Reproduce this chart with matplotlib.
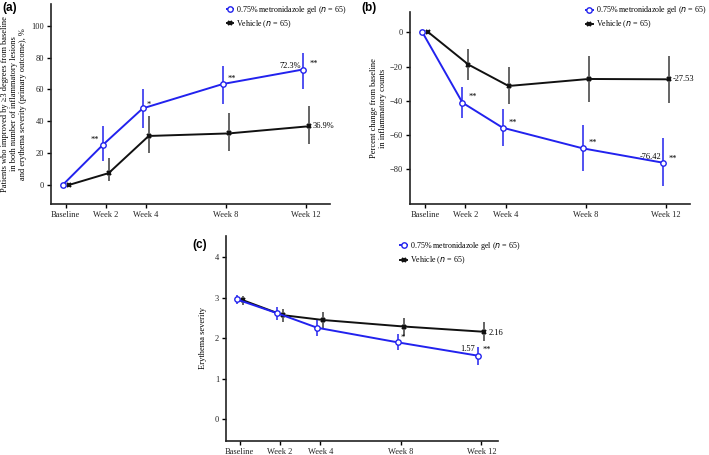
import matplotlib
matplotlib.use("Agg")
import matplotlib.pyplot as plt
import numpy as np

weeks = [0, 2, 4, 8, 12]
week_labels = ["Baseline", "Week 2", "Week 4", "Week 8", "Week 12"]

# (a) responders, %
a_gel = [0, 25.1, 48.1, 63.4, 72.5]
a_gel_lo = [0, 15.3, 35.6, 50.8, 60.0]
a_gel_hi = [0, 37.0, 60.5, 74.7, 82.7]
a_veh = [0, 7.5, 30.8, 32.4, 36.9]
a_veh_lo = [0, 2.5, 19.9, 21.5, 25.5]
a_veh_hi = [0, 17.1, 43.3, 45.0, 49.6]

# (b) percent change in inflammatory counts
b_gel = [0, -41.2, -55.8, -67.9, -76.3]
b_gel_lo = [0, -50.1, -66.5, -81.3, -89.9]
b_gel_hi = [0, -32.2, -44.9, -54.4, -62.0]
b_veh = [0, -18.9, -31.4, -27.3, -27.5]
b_veh_lo = [0, -27.9, -42.1, -40.8, -41.5]
b_veh_hi = [0, -9.9, -20.3, -13.8, -13.7]

# (c) erythema severity
c_gel = [2.96, 2.62, 2.26, 1.90, 1.57]
c_gel_lo = [2.85, 2.45, 2.06, 1.70, 1.34]
c_gel_hi = [3.06, 2.77, 2.45, 2.11, 1.79]
c_veh = [2.94, 2.57, 2.45, 2.29, 2.16]
c_veh_lo = [2.82, 2.41, 2.23, 2.06, 1.93]
c_veh_hi = [3.05, 2.72, 2.65, 2.49, 2.39]

BLUE = "#2222ee"
BLACK = "#111111"
SERIF = ["Liberation Serif", "DejaVu Serif"]
plt.rcParams["font.family"] = SERIF
plt.rcParams["font.size"] = 6

fig = plt.figure(figsize=(7.09, 4.55), dpi=100)
axA = fig.add_axes([0.0719, 0.5516, 0.3935, 0.4396])
axB = fig.add_axes([0.578, 0.5516, 0.395, 0.422])
axC = fig.add_axes([0.319, 0.0308, 0.384, 0.4505])

dodge = 0.15


def draw(ax, gel, glo, ghi, veh, vlo, vhi):
    x = np.array(weeks, dtype=float)
    gel = np.array(gel); veh = np.array(veh)
    gerr = [gel - np.array(glo), np.array(ghi) - gel]
    verr = [veh - np.array(vlo), np.array(vhi) - veh]
    ax.errorbar(x + dodge, veh, yerr=verr, fmt="none", ecolor="#3a3a3a", elinewidth=1.1, zorder=2)
    ax.plot(x + dodge, veh, color=BLACK, lw=1.4, marker="x", ms=3.5, mew=1.5, zorder=3,
            label="Vehicle ($n$ = 65)")
    ax.errorbar(x - dodge, gel, yerr=gerr, fmt="none", ecolor=BLUE, elinewidth=1.1, zorder=4)
    ax.plot(x - dodge, gel, color=BLUE, lw=1.4, marker="o", ms=3.9, mfc="white", mew=1.0,
            zorder=5, label="0.75% metronidazole gel ($n$ = 65)")
    for s in ["top", "right"]:
        ax.spines[s].set_visible(False)
    for s in ["left", "bottom"]:
        ax.spines[s].set_linewidth(1.2)
        ax.spines[s].set_color("#222222")
    ax.set_xticks(weeks)
    ax.set_xticklabels(week_labels)
    ax.tick_params(length=3, width=1, pad=2, labelsize=6, labelcolor="#222222")
    h, l = ax.get_legend_handles_labels()
    return h, l


def legend(ax, h, l, x, y):
    ax.legend(h[::-1], l[::-1], loc="upper left", bbox_to_anchor=(x, y), frameon=False,
              handlelength=0.8, handletextpad=0.4, borderpad=0, labelspacing=0.3,
              fontsize=5.8, borderaxespad=0)


def note(ax, txt, xy, dx, dy, ha="left"):
    ax.annotate(txt, xy=xy, xytext=(dx, dy), textcoords="offset pixels",
                ha=ha, va="center", fontsize=6)


# panel a
h, l = draw(axA, a_gel, a_gel_lo, a_gel_hi, a_veh, a_veh_lo, a_veh_hi)
axA.set_xlim(-0.73, 13.2)
axA.set_ylim(-11.9, 113.6)
axA.set_yticks([0, 20, 40, 60, 80, 100])
axA.set_ylabel("Patients who improved by \u22653 degrees from baseline\n"
               "in both number of inflammatory lesions\n"
               "and erythema severity (primary outcome), %", fontsize=6, linespacing=1.15)
axA.yaxis.set_label_coords(-0.086, 0.5)
legend(axA, h, l, 0.63, 1.0)
note(axA, "**", (2 - dodge, a_gel[1]), -4, 5, ha="right")
note(axA, "*", (4 - dodge, a_gel[2]), 4, 4)
note(axA, "**", (8 - dodge, a_gel[3]), 5, 5)
note(axA, "72.3%", (12 - dodge, a_gel[4]), -2, 4, ha="right")
note(axA, "**", (12 - dodge, a_gel[4]), 7, 6)
note(axA, "36.9%", (12 + dodge, a_veh[4]), 4, 0)

# panel b
h, l = draw(axB, b_gel, b_gel_lo, b_gel_hi, b_veh, b_veh_lo, b_veh_hi)
axB.set_xlim(-0.78, 13.2)
axB.set_ylim(-100.5, 11.9)
axB.set_yticks([0, -20, -40, -60, -80])
axB.set_ylabel("Percent change from baseline\nin inflammatory counts", fontsize=6,
               linespacing=1.15)
axB.yaxis.set_label_coords(-0.08, 0.5)
legend(axB, h, l, 0.63, 1.04)
note(axB, "**", (2 - dodge, b_gel[1]), 6, 6)
note(axB, "**", (4 - dodge, b_gel[2]), 6, 5)
note(axB, "**", (8 - dodge, b_gel[3]), 6, 5)
note(axB, "-76.42", (12 - dodge, b_gel[4]), -2, 6, ha="right")
note(axB, "**", (12 - dodge, b_gel[4]), 6, 4)
note(axB, "-27.53", (12 + dodge, b_veh[4]), 4, 0)

# panel c
h, l = draw(axC, c_gel, c_gel_lo, c_gel_hi, c_veh, c_veh_lo, c_veh_hi)
axC.set_xlim(-0.67, 12.85)
axC.set_ylim(-0.53, 4.52)
axC.set_yticks([0, 1, 2, 3, 4])
axC.set_ylabel("Erythema severity", fontsize=6)
axC.yaxis.set_label_coords(-0.07, 0.5)
legend(axC, h, l, 0.64, 0.98)
note(axC, "*", (8 + dodge, c_veh[3]), -3, -11)
note(axC, "1.57", (12 - dodge, c_gel[4]), -3, 7, ha="right")
note(axC, "**", (12 - dodge, c_gel[4]), 4, 6)
note(axC, "2.16", (12 + dodge, c_veh[4]), 4, -1)

for lab, x, y in [("(a)", 0.003, 0.995), ("(b)", 0.509, 0.995), ("(c)", 0.272, 0.475)]:
    fig.text(x, y, lab, ha="left", va="top", fontsize=8.5, fontweight="bold",
             family=["Liberation Sans", "DejaVu Sans"])

fig.savefig("out.png", dpi=100)
